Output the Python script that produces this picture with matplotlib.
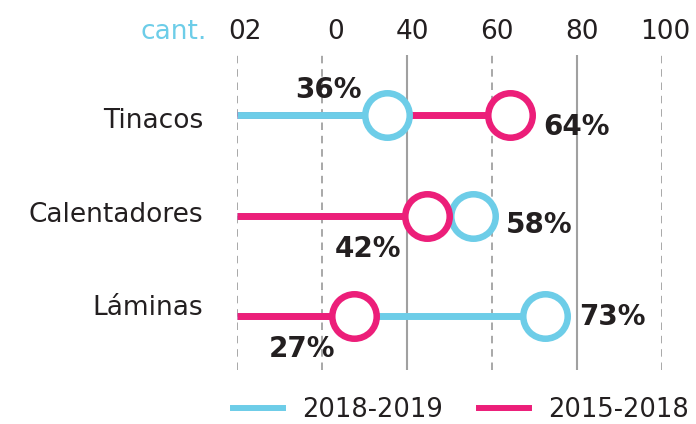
import matplotlib
matplotlib.use('Agg')
import matplotlib.pyplot as plt
from matplotlib.lines import Line2D

# datos
categorias = ['Tinacos', 'Calentadores', 'Láminas']
pos_1819 = [35.3, 55.6, 72.5]      # circulo azul
pos_1518 = [64.2, 44.6, 27.6]      # circulo rosa
etiq_1819 = ['36%', '58%', '73%']
etiq_1518 = ['64%', '42%', '27%']
ticks = [0, 20, 40, 60, 80, 100]
tick_labels = ['02', '0', '40', '60', '80', '100']
series = ['2018-2019', '2015-2018']

AZUL = '#6dcde8'
ROSA = '#ec1e79'
TEXTO = '#231f20'
GRIS = '#a0a0a0'

plt.rcParams['font.family'] = ['DejaVu Sans']

fig = plt.figure(figsize=(6.96, 4.24), dpi=100)
ax = fig.add_axes([237 / 696, 1 - 370 / 424, 425 / 696, 315 / 424])
ax.set_xlim(0, 100)
ax.set_ylim(2.535, -0.5995)
ax.axis('off')

# rejilla: 40 y 80 solidas, resto punteada
for t in ticks:
    if t in (40, 80):
        ax.axvline(t, color=GRIS, lw=1.5, zorder=0)
    else:
        ax.axvline(t, color='#999999', lw=1.2, ls=(0, (4.5, 3.5)), zorder=0)

# etiquetas del eje arriba
desp_tick = [8, 14, 5, 5, 5, 3]
for t, lab, dx in zip(ticks, tick_labels, desp_tick):
    ax.annotate(lab, xy=(t, 1), xycoords=('data', 'axes fraction'),
                xytext=(dx, 16), textcoords='offset pixels',
                ha='center', va='baseline', fontsize=19, color=TEXTO)
ax.annotate('cant.', xy=(0, 1), xycoords=('data', 'axes fraction'),
            xytext=(-30, 16), textcoords='offset pixels',
            ha='right', va='baseline', fontsize=19, color=AZUL)

# lineas y circulos
for i in range(len(categorias)):
    a, r = pos_1819[i], pos_1518[i]
    orden = [(a, AZUL), (r, ROSA)]
    orden.sort(key=lambda p: -p[0])  # la mas larga abajo
    for z, (v, c) in enumerate(orden):
        ax.plot([0, v], [i, i], color=c, lw=5, solid_capstyle='butt', zorder=2 + z, clip_on=False)
    for v, c in orden:
        ax.plot(v, i, 'o', ms=32, mfc='white', mec=c, mew=4.7, zorder=5, clip_on=False)

# etiquetas de porcentaje (desplazamiento en pixeles)
off_1819 = [(-59, 17, 'center'), (33, -17, 'left'), (34, -9, 'left')]
off_1518 = [(33, -20, 'left'), (-59, -41, 'center'), (-52, -41, 'center')]
for i in range(len(categorias)):
    for v, lab, (dx, dy, ha) in ((pos_1819[i], etiq_1819[i], off_1819[i]),
                                 (pos_1518[i], etiq_1518[i], off_1518[i])):
        ax.annotate(lab, xy=(v, i), xytext=(dx, dy), textcoords='offset pixels',
                    ha=ha, va='baseline', fontsize=20, fontweight='bold',
                    color=TEXTO, zorder=6, annotation_clip=False)

# categorias
desp_cat = [-13, -6, 1]
for i, (cat, dy) in enumerate(zip(categorias, desp_cat)):
    ax.annotate(cat, xy=(0, i), xytext=(-34, dy), textcoords='offset pixels',
                ha='right', va='baseline', fontsize=19, color=TEXTO,
                annotation_clip=False)

handles = [Line2D([], [], color=AZUL, lw=4.3), Line2D([], [], color=ROSA, lw=4.3)]
leg = fig.legend(handles, series, loc='center left', bbox_to_anchor=(233 / 696, 1 - 410 / 424),
                 ncol=2, frameon=False, fontsize=18.5, handlelength=1.95, handletextpad=0.75,
                 columnspacing=1.4, borderpad=0, borderaxespad=0)
for t in leg.get_texts():
    t.set_color(TEXTO)

fig.savefig('out.png', dpi=100)
